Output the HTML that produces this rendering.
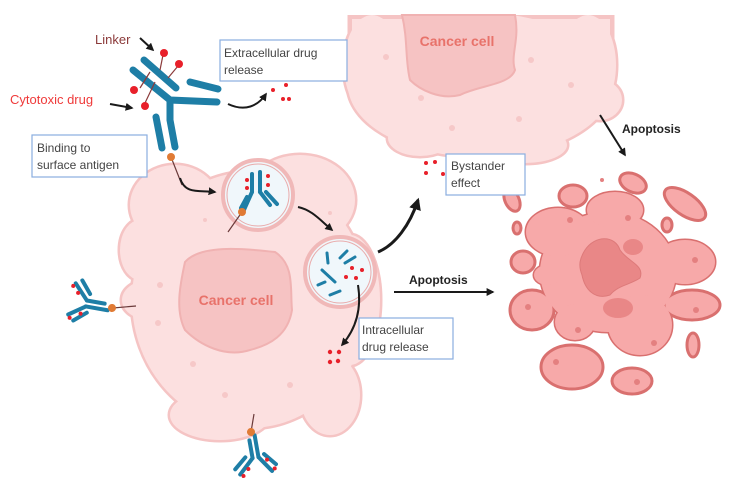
<!DOCTYPE html>
<html><head><meta charset="utf-8"><style>
html,body{margin:0;padding:0;background:#fff;width:745px;height:490px;overflow:hidden}
svg{display:block;font-family:"Liberation Sans",sans-serif}
</style></head><body>
<svg width="745" height="490" viewBox="0 0 745 490" xmlns="http://www.w3.org/2000/svg">
<defs>
<marker id="ah" viewBox="0 0 10 10" refX="8" refY="5" markerWidth="4" markerHeight="4" orient="auto"><path d="M0,0 L10,5 L0,10 z" fill="#1a1a1a"/></marker>
<g id="ab">
 <line x1="-3" y1="8" x2="-3" y2="26" stroke="#1e7ea6" stroke-width="4" stroke-linecap="round"/>
 <line x1="3" y1="4" x2="3" y2="26" stroke="#1e7ea6" stroke-width="4" stroke-linecap="round"/>
 <polyline points="-3,26 -18,40" fill="none" stroke="#1e7ea6" stroke-width="4" stroke-linecap="round"/>
 <polyline points="3,26 14,42" fill="none" stroke="#1e7ea6" stroke-width="4" stroke-linecap="round"/>
 <line x1="-10" y1="24" x2="-22" y2="34" stroke="#1e7ea6" stroke-width="4" stroke-linecap="round"/>
 <line x1="9" y1="24" x2="19" y2="36" stroke="#1e7ea6" stroke-width="4" stroke-linecap="round"/>
 <circle cx="0" cy="0" r="4" fill="#e07b35"/>
 <circle cx="-9" cy="36" r="2" fill="#e8202a"/><circle cx="-15" cy="42" r="2" fill="#e8202a"/>
 <circle cx="11" cy="30" r="2" fill="#e8202a"/><circle cx="17" cy="40" r="2" fill="#e8202a"/>
</g>
</defs>

<!-- TOP CANCER CELL -->
<g fill="#fce0e0" stroke="#f5c4c4" stroke-width="5">
 <ellipse cx="480" cy="85" rx="132" ry="72"/>
 <ellipse cx="372" cy="65" rx="28" ry="50"/>
 <ellipse cx="588" cy="65" rx="28" ry="50"/>
 <ellipse cx="600" cy="100" rx="22" ry="20"/>
 <ellipse cx="420" cy="138" rx="32" ry="18"/>
 <ellipse cx="525" cy="145" rx="42" ry="18"/>
 <rect x="350" y="17" width="262" height="60"/>
</g>
<g fill="#fce0e0">
 <ellipse cx="480" cy="85" rx="132" ry="72"/>
 <ellipse cx="372" cy="65" rx="28" ry="50"/>
 <ellipse cx="588" cy="65" rx="28" ry="50"/>
 <ellipse cx="600" cy="100" rx="22" ry="20"/>
 <ellipse cx="420" cy="138" rx="32" ry="18"/>
 <ellipse cx="525" cy="145" rx="42" ry="18"/>
 <rect x="352" y="19" width="258" height="60"/>
</g>
<rect x="340" y="0" width="290" height="15" fill="#fff"/>
<path d="M402,15 L515,15 C520,40 510,55 515,70 C510,85 480,85 460,95 C440,100 420,90 410,80 C405,60 408,40 402,15 Z" fill="#f6c3c3" stroke="#f0b2b2" stroke-width="2"/>
<text x="457" y="46" text-anchor="middle" font-size="14" font-weight="bold" fill="#e8726a">Cancer cell</text>
<g fill="#f6c8c8"><circle cx="386" cy="57" r="3"/><circle cx="531" cy="60" r="3"/><circle cx="571" cy="85" r="3"/><circle cx="421" cy="98" r="3"/><circle cx="452" cy="128" r="3"/><circle cx="519" cy="119" r="3"/></g>

<!-- MAIN CANCER CELL -->
<g fill="#fce0e0" stroke="#f5c4c4" stroke-width="5">
 <ellipse cx="250" cy="300" rx="118" ry="128"/>
 <ellipse cx="175" cy="205" rx="45" ry="40"/>
 <ellipse cx="300" cy="200" rx="55" ry="45"/>
 <ellipse cx="350" cy="300" rx="30" ry="65"/>
 <ellipse cx="150" cy="300" rx="28" ry="20"/>
 <ellipse cx="330" cy="395" rx="30" ry="40"/>
 <ellipse cx="220" cy="415" rx="50" ry="25"/>
 <ellipse cx="140" cy="250" rx="20" ry="30"/>
</g>
<g fill="#fce0e0">
 <ellipse cx="250" cy="300" rx="118" ry="128"/>
 <ellipse cx="175" cy="205" rx="45" ry="40"/>
 <ellipse cx="300" cy="200" rx="55" ry="45"/>
 <ellipse cx="350" cy="300" rx="30" ry="65"/>
 <ellipse cx="150" cy="300" rx="28" ry="20"/>
 <ellipse cx="330" cy="395" rx="30" ry="40"/>
 <ellipse cx="220" cy="415" rx="50" ry="25"/>
 <ellipse cx="140" cy="250" rx="20" ry="30"/>
</g>
<path d="M185,262 C200,245 240,248 275,252 C295,265 290,290 292,310 C288,335 270,345 250,350 C225,358 200,345 185,330 C175,310 180,285 185,262 Z" fill="#f6c3c3" stroke="#f0b2b2" stroke-width="2"/>
<text x="236" y="305" text-anchor="middle" font-size="14" font-weight="bold" fill="#e8726a">Cancer cell</text>
<g fill="#f6c8c8"><circle cx="160" cy="285" r="3"/><circle cx="158" cy="323" r="3"/><circle cx="193" cy="364" r="3"/><circle cx="225" cy="395" r="3"/><circle cx="290" cy="385" r="3"/><circle cx="205" cy="220" r="2"/><circle cx="330" cy="213" r="2"/></g>

<!-- APOPTOTIC CELL -->
<g fill="#f7a9a9" stroke="#d9706f" stroke-width="3">
 <ellipse cx="608" cy="272" rx="68" ry="60"/>
 <ellipse cx="685" cy="262" rx="30" ry="22"/>
 <ellipse cx="640" cy="325" rx="32" ry="30"/>
 <ellipse cx="558" cy="232" rx="32" ry="24"/>
 <ellipse cx="575" cy="322" rx="20" ry="18"/>
 <ellipse cx="615" cy="210" rx="28" ry="18"/>
 <ellipse cx="548" cy="275" rx="14" ry="10"/>
 <ellipse cx="633" cy="183" rx="14" ry="9" transform="rotate(25 633 183)"/>
 <ellipse cx="573" cy="196" rx="14" ry="11"/>
 <ellipse cx="685" cy="204" rx="24" ry="11" transform="rotate(35 685 204)"/>
 <ellipse cx="512" cy="200" rx="7" ry="12" transform="rotate(-25 512 200)"/>
 <ellipse cx="517" cy="228" rx="4" ry="6"/>
 <ellipse cx="667" cy="225" rx="5" ry="7"/>
 <ellipse cx="523" cy="262" rx="12" ry="11"/>
 <ellipse cx="532" cy="310" rx="22" ry="20"/>
 <ellipse cx="692" cy="305" rx="28" ry="15"/>
 <ellipse cx="693" cy="345" rx="6" ry="12"/>
 <ellipse cx="572" cy="367" rx="31" ry="22"/>
 <ellipse cx="632" cy="381" rx="20" ry="13"/>
</g>
<g fill="#f7a9a9">
 <ellipse cx="608" cy="272" rx="68" ry="60"/>
 <ellipse cx="685" cy="262" rx="30" ry="22"/>
 <ellipse cx="640" cy="325" rx="32" ry="30"/>
 <ellipse cx="558" cy="232" rx="32" ry="24"/>
 <ellipse cx="575" cy="322" rx="20" ry="18"/>
 <ellipse cx="615" cy="210" rx="28" ry="18"/>
 <ellipse cx="548" cy="275" rx="14" ry="10"/>
</g>
<path d="M585,250 C595,235 615,235 620,250 C628,262 645,265 640,278 C630,285 618,285 610,295 C595,300 585,290 582,275 C578,265 580,258 585,250 Z" fill="#e98787" stroke="#dd7a7a" stroke-width="1"/>
<ellipse cx="618" cy="308" rx="15" ry="10" fill="#e98787"/>
<ellipse cx="633" cy="247" rx="10" ry="8" fill="#e98787"/>
<g fill="#e48080"><circle cx="570" cy="220" r="3"/><circle cx="628" cy="218" r="3"/><circle cx="695" cy="260" r="3"/><circle cx="528" cy="307" r="3"/><circle cx="578" cy="330" r="3"/><circle cx="654" cy="343" r="3"/><circle cx="556" cy="362" r="3"/><circle cx="637" cy="382" r="3"/><circle cx="696" cy="310" r="3"/><circle cx="602" cy="180" r="2"/></g>

<!-- ENDOSOMES -->
<circle cx="258" cy="195" r="35" fill="#f0f7fb" stroke="#f0b8b8" stroke-width="4"/>
<circle cx="258" cy="195" r="31" fill="none" stroke="#e9aaaa" stroke-width="1"/>
<g stroke="#1e7ea6" stroke-width="4" stroke-linecap="round" fill="none">
 <line x1="252" y1="174" x2="252" y2="192"/><line x1="260" y1="172" x2="260" y2="192"/>
 <line x1="252" y1="192" x2="243" y2="212"/><line x1="260" y1="192" x2="270" y2="205"/>
 <line x1="247" y1="197" x2="241" y2="208"/><line x1="266" y1="192" x2="277" y2="204"/>
</g>
<g fill="#e8202a"><circle cx="247" cy="180" r="2"/><circle cx="247" cy="188" r="2"/><circle cx="268" cy="176" r="2"/><circle cx="268" cy="185" r="2"/></g>
<line x1="242" y1="212" x2="228" y2="232" stroke="#6b3a3a" stroke-width="1.2"/>
<circle cx="242" cy="212" r="4" fill="#e07b35"/>

<circle cx="340" cy="272" r="35" fill="#f0f7fb" stroke="#f0b8b8" stroke-width="4"/>
<circle cx="340" cy="272" r="31" fill="none" stroke="#e9aaaa" stroke-width="1"/>
<g stroke="#1e7ea6" stroke-width="3" stroke-linecap="round">
 <line x1="327" y1="253" x2="328" y2="263"/><line x1="340" y1="258" x2="347" y2="251"/><line x1="345" y1="263" x2="355" y2="257"/>
 <line x1="322" y1="270" x2="335" y2="282"/><line x1="318" y1="285" x2="325" y2="282"/><line x1="330" y1="295" x2="340" y2="291"/>
</g>
<g fill="#e8202a"><circle cx="352" cy="268" r="2"/><circle cx="362" cy="270" r="2"/><circle cx="346" cy="277" r="2"/><circle cx="356" cy="278" r="2"/></g>

<!-- BIG ANTIBODY -->
<g stroke="#1e7ea6" stroke-width="7" stroke-linecap="round" fill="none">
 <polyline points="133,70 170,100 217,102"/>
 <line x1="144" y1="60" x2="176" y2="88"/>
 <line x1="190" y1="82" x2="218" y2="89"/>
 <line x1="156" y1="117" x2="162" y2="148"/>
 <polyline points="170,100 170,120 175,147"/>
</g>
<g stroke="#8b3a3a" stroke-width="1.2"><line x1="150" y1="72" x2="140" y2="88"/><line x1="155" y1="82" x2="145" y2="103"/><line x1="160" y1="70" x2="163" y2="55"/><line x1="168" y1="78" x2="178" y2="66"/></g>
<g fill="#e8202a"><circle cx="134" cy="90" r="4"/><circle cx="145" cy="106" r="4"/><circle cx="164" cy="53" r="4"/><circle cx="179" cy="64" r="4"/></g>
<line x1="171" y1="157" x2="182" y2="185" stroke="#6b3a3a" stroke-width="1.2"/>
<circle cx="171" cy="157" r="4" fill="#e07b35"/>

<!-- small antibodies -->
<line x1="113" y1="308" x2="136" y2="306" stroke="#6b3a3a" stroke-width="1.2"/>
<use href="#ab" transform="translate(112,308) rotate(100)"/>
<line x1="251" y1="432" x2="254" y2="414" stroke="#6b3a3a" stroke-width="1.2"/>
<use href="#ab" transform="translate(251,432) rotate(-10)"/>

<!-- ARROWS -->
<g fill="none" stroke="#1a1a1a" stroke-width="2" marker-end="url(#ah)">
 <path d="M140,38 L153,50"/>
 <path d="M110,104 L132,108"/>
 <path d="M228,104 C245,112 258,106 266,94"/>
 <path d="M180,178 C185,195 200,190 215,192"/>
 <path d="M298,207 C312,210 320,220 332,230"/>
 <path d="M378,252 C395,245 410,225 418,200" stroke-width="3"/>
 <path d="M358,285 C362,310 355,330 342,345"/>
 <path d="M394,292 L493,292"/>
 <path d="M600,115 L625,155"/>
</g>
<g fill="#e8202a"><circle cx="273" cy="90" r="2"/><circle cx="286" cy="85" r="2"/><circle cx="283" cy="99" r="2"/><circle cx="289" cy="99" r="2"/>
<circle cx="426" cy="163" r="2"/><circle cx="435" cy="162" r="2"/><circle cx="426" cy="173" r="2"/><circle cx="443" cy="174" r="2"/>
<circle cx="330" cy="352" r="2.2"/><circle cx="339" cy="352" r="2.2"/><circle cx="330" cy="362" r="2.2"/><circle cx="338" cy="361" r="2.2"/></g>

<!-- LABELS -->
<g font-size="12" fill="#444">
<rect x="220" y="40" width="127" height="41" fill="#fff" stroke="#8aaee0" stroke-width="1.2"/>
<text x="224" y="57">Extracellular drug</text><text x="224" y="74">release</text>
<rect x="32" y="135" width="115" height="42" fill="#fff" stroke="#8aaee0" stroke-width="1.2"/>
<text x="37" y="152">Binding to</text><text x="37" y="169">surface antigen</text>
<rect x="446" y="154" width="79" height="41" fill="#fff" stroke="#8aaee0" stroke-width="1.2"/>
<text x="451" y="170">Bystander</text><text x="451" y="187">effect</text>
<rect x="359" y="318" width="94" height="41" fill="#fff" stroke="#8aaee0" stroke-width="1.2"/>
<text x="362" y="334">Intracellular</text><text x="362" y="351">drug release</text>
</g>
<text x="95" y="44" font-size="13" fill="#8b3a3a">Linker</text>
<text x="10" y="104" font-size="13" fill="#ef3a3a">Cytotoxic drug</text>
<text x="622" y="133" font-size="12" font-weight="bold" fill="#222">Apoptosis</text>
<text x="409" y="284" font-size="12" font-weight="bold" fill="#222">Apoptosis</text>
</svg>
</body></html>
